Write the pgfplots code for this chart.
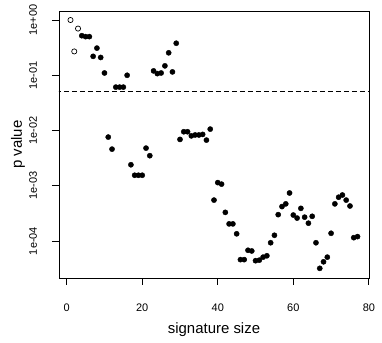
\documentclass[border=0pt]{standalone}
\usepackage{pgfplots}
\pgfplotsset{compat=1.18}
\usepackage{fontspec}
\setmainfont{Liberation Sans}
\begin{document}
\begin{tikzpicture}
\begin{axis}[
    scale only axis,
    width=310bp, height=267bp,
    ymode=log,
    xmin=-2.04, xmax=80.04,
    ymin=2.14e-5, ymax=1.456,
    xtick={0,20,40,60,80},
    ytick={1,0.1,0.01,0.001,0.0001},
    yticklabels={1e+00,1e-01,1e-02,1e-03,1e-04},
    minor tick num=0,
    tick pos=left,
    tick align=outside,
    major tick length=7bp,
    axis line style={line width=0.8bp},
    tick style={line width=0.8bp, black},
    /pgf/number format/assume math mode=true,
    ticklabel style={font=\fontsize{11}{13}\selectfont},
    xticklabel style={anchor=center, yshift=-23bp},
    yticklabel style={xshift=-19bp, rotate=90, anchor=center},
    xlabel={signature size},
    ylabel={p value},
    label style={font=\fontsize{15}{18}\selectfont},
    xlabel style={at={(axis description cs:0.5,-0.195)}, anchor=center},
    ylabel style={at={(axis description cs:-0.132,0.5)}, anchor=center},
]
% p = 0.05 threshold
\addplot[black, line width=0.8bp, dash pattern=on 5bp off 3bp] coordinates {(-5,0.05) (85,0.05)};
% open circles
\addplot[only marks, mark=o, mark size=2.6bp, mark options={line width=0.7bp, black}] coordinates {
(1,1.0) (2,0.27) (3,0.70)
};
% filled circles
\addplot[only marks, mark=*, mark size=2.6bp, mark options={black, fill=black}] coordinates {
(4,0.52) (5,0.50) (6,0.50) (7,0.22) (8,0.31) (9,0.21) (10,0.11)
(11,0.0076) (12,0.0046) (13,0.061) (14,0.061) (15,0.061) (16,0.10)
(17,0.0024) (18,0.00155) (19,0.00155) (20,0.00155) (21,0.0048) (22,0.0035)
(23,0.12) (24,0.107) (25,0.11) (26,0.148) (27,0.255) (28,0.115) (29,0.38)
(30,0.0069) (31,0.0095) (32,0.0095) (33,0.0080) (34,0.0083) (35,0.0083)
(36,0.0085) (37,0.0067) (38,0.0106) (39,0.00055) (40,0.00114) (41,0.00107)
(42,0.00033) (43,0.000204) (44,0.000204) (45,0.000135) (46,4.6e-5) (47,4.6e-5)
(48,6.8e-5) (49,6.6e-5) (50,4.4e-5) (51,4.5e-5) (52,5.1e-5) (53,5.4e-5)
(54,9.3e-5) (55,1.27e-4) (56,3.0e-4) (57,4.2e-4) (58,4.7e-4) (59,7.4e-4)
(60,2.95e-4) (61,2.6e-4) (62,3.9e-4) (63,2.7e-4) (64,2.1e-4) (65,2.8e-4)
(66,9.3e-5) (67,3.2e-5) (68,4.2e-5) (69,5.1e-5) (70,1.38e-4) (71,4.7e-4)
(72,6.2e-4) (73,6.8e-4) (74,5.5e-4) (75,4.3e-4) (76,1.15e-4) (77,1.2e-4)
};
\end{axis}
\pgfresetboundingbox
\path ([xshift=-59bp,yshift=-65bp]current axis.south west) rectangle ([xshift=13bp,yshift=11bp]current axis.north east);
\end{tikzpicture}
\end{document}
